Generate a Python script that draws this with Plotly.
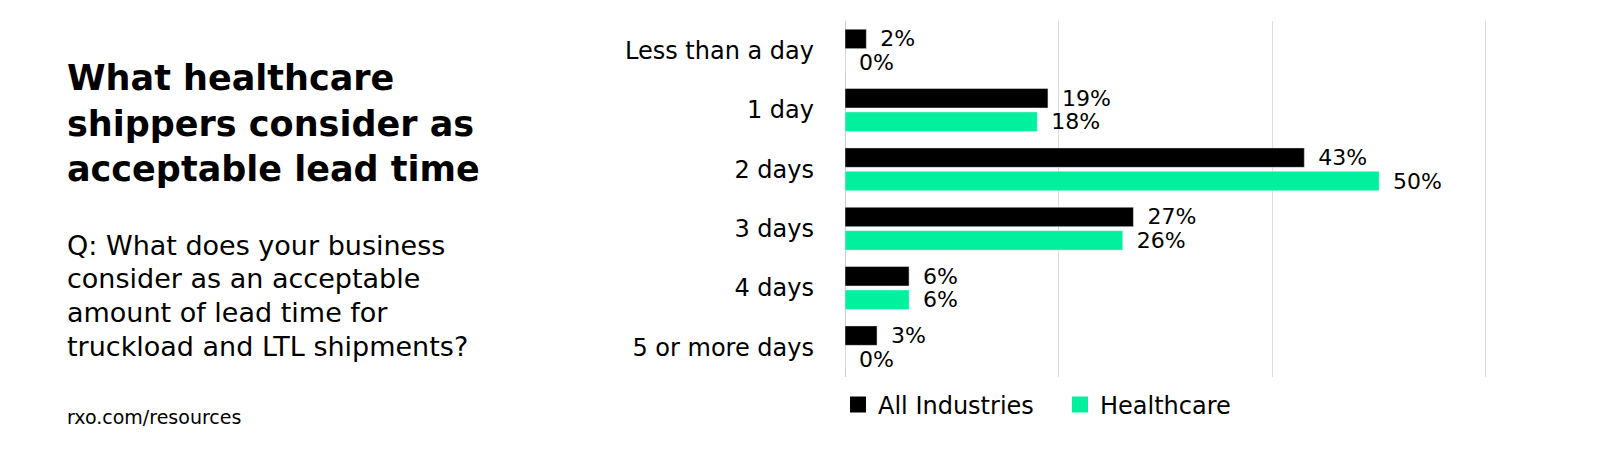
import plotly.graph_objects as go

categories = ["Less than a day", "1 day", "2 days", "3 days", "4 days", "5 or more days"]
all_industries = [2, 19, 43, 27, 6, 3]
healthcare = [0, 18, 50, 26, 6, 0]
series_names = ["All Industries", "Healthcare"]
series_colors = ["#000000", "#00F09E"]
title_lines = ["What healthcare", "shippers consider as", "acceptable lead time"]
question_lines = ["Q: What does your business", "consider as an acceptable",
                  "amount of lead time for", "truckload and LTL shipments?"]
source_text = "rxo.com/resources"

W, H = 1600, 460
OFF = 8  # page body margin
ML, MT = 845 - OFF, 21 - OFF
PW, PH = 642, 356
MR, MB = W - ML - PW, H - MT - PH
FONT = "DejaVu Sans"


def px_x(x):
    return (x - OFF - ML) / PW


def px_y(y):
    return 1 - (y - OFF - MT) / PH


fig = go.Figure()
for name, vals, col in zip(series_names, [all_industries, healthcare], series_colors):
    fig.add_trace(go.Bar(
        y=categories, x=vals, name=name, orientation="h",
        marker=dict(color=col), showlegend=False,
        texttemplate="\u2002%{x}%", textposition="outside", cliponaxis=False,
        constraintext="none",
        textfont=dict(size=22, color="#000000", family=FONT),
    ))
for name, col in zip(series_names, series_colors):
    fig.add_trace(go.Scatter(
        x=[None], y=[None], mode="markers", name=name,
        marker=dict(symbol="square", size=16, color=col),
    ))

fig.update_layout(
    width=W, height=H,
    margin=dict(l=ML, r=MR, t=MT, b=MB),
    paper_bgcolor="white", plot_bgcolor="white",
    barmode="group", bargap=0.21, bargroupgap=0.17,
    font=dict(family=FONT, color="#000000"),
    showlegend=True,
    legend=dict(orientation="h", x=px_x(838), y=px_y(405), xanchor="left", yanchor="middle",
                font=dict(size=24, family=FONT, color="#000000"),
                itemwidth=30, traceorder="normal", entrywidth=177),
    xaxis=dict(range=[0, 60.1], tickvals=[0, 20, 40, 60], showticklabels=False, showgrid=True,
               gridcolor="#DDDDDD", gridwidth=1, zeroline=True, zerolinecolor="#CCCCCC",
               zerolinewidth=1, fixedrange=True),
    yaxis=dict(autorange="reversed", showgrid=False, ticks="",
               tickfont=dict(size=24, family=FONT, color="#000000"),
               ticklabelstandoff=30, fixedrange=True),
)

fig.add_annotation(
    text="<br>".join(f"<b>{l}</b>" for l in title_lines),
    xref="paper", yref="paper", x=px_x(65), y=px_y(56), xanchor="left", yanchor="top",
    align="left", showarrow=False, font=dict(size=35, family=FONT, color="#000000"),
)
for i, line in enumerate(question_lines):
    fig.add_annotation(
        text=line,
        xref="paper", yref="paper", x=px_x(65), y=px_y(245 + 33.7 * i),
        xanchor="left", yanchor="middle",
        align="left", showarrow=False, font=dict(size=27, family=FONT, color="#000000"),
    )
fig.add_annotation(
    text=source_text,
    xref="paper", yref="paper", x=px_x(65), y=px_y(417), xanchor="left", yanchor="middle",
    align="left", showarrow=False, font=dict(size=19, family=FONT, color="#000000"),
)

fig.write_html("out.html")
